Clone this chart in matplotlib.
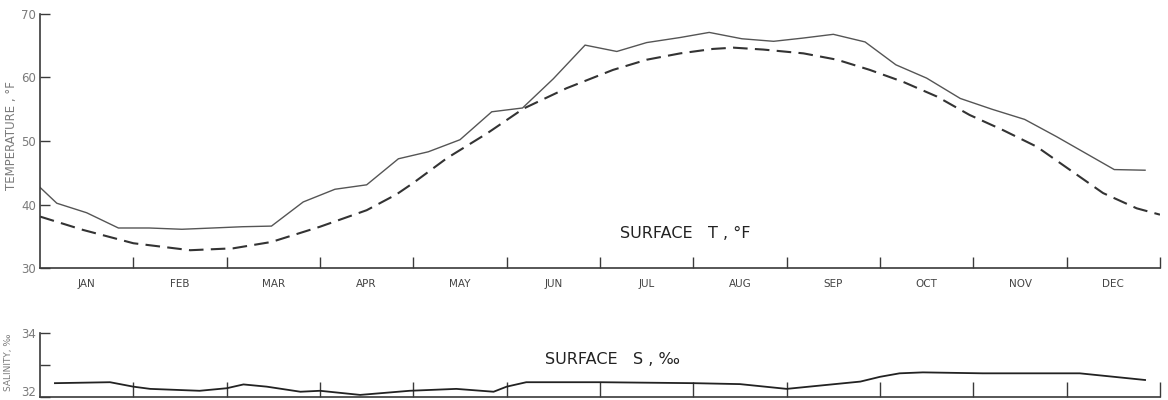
import matplotlib
matplotlib.use("Agg")
import matplotlib.pyplot as plt

# ---- data (months from Jan 1, 0..12) ----
months = ["JAN", "FEB", "MAR", "APR", "MAY", "JUN", "JUL", "AUG", "SEP", "OCT", "NOV", "DEC"]

obs_month = [0, 0.18, 0.5, 0.84, 1.17, 1.52, 1.85, 2.17, 2.48, 2.82, 3.16, 3.5, 3.84, 4.16,
             4.5, 4.84, 5.17, 5.5, 5.84, 6.18, 6.5, 6.86, 7.17, 7.52, 7.86, 8.17, 8.5, 8.84,
             9.17, 9.5, 9.86, 10.2, 10.55, 10.89, 11.2, 11.51, 11.84]
obs_temp = [42.7, 40.2, 38.7, 36.3, 36.3, 36.1, 36.3, 36.5, 36.6, 40.4, 42.4, 43.1, 47.2, 48.3,
            50.2, 54.6, 55.2, 59.8, 65.1, 64.1, 65.5, 66.3, 67.1, 66.1, 65.7, 66.2, 66.8, 65.6,
            62.0, 59.9, 56.7, 55.0, 53.4, 50.7, 48.1, 45.5, 45.4]

smooth_month = [0, 0.46, 1.0, 1.61, 2.07, 2.48, 3.0, 3.5, 3.82, 4.0, 4.36, 4.79, 5.18, 5.64, 6.14,
                6.5, 6.86, 7.21, 7.43, 7.75, 8.18, 8.54, 8.89, 9.25, 9.61, 9.96, 10.32, 10.68,
                11.04, 11.39, 11.75, 12.0]
smooth_temp = [38.1, 36.0, 33.9, 32.8, 33.1, 34.1, 36.5, 39.1, 41.6, 43.4, 47.3, 51.2, 55.1, 58.3, 61.2,
               62.8, 63.8, 64.5, 64.7, 64.4, 63.8, 62.8, 61.2, 59.3, 57.0, 54.1, 51.7, 49.1,
               45.4, 41.8, 39.4, 38.4]

sal_month = [0.16, 0.75, 1.0, 1.18, 1.71, 2.0, 2.18, 2.43, 2.79, 3.0, 3.43, 3.96, 4.46, 4.86,
             5.0, 5.21, 6.0, 7.0, 7.5, 8.0, 8.79, 9.0, 9.21, 9.46, 10.1, 11.14, 11.84]
sal = [32.42, 32.45, 32.31, 32.24, 32.18, 32.26, 32.38, 32.31, 32.15, 32.18, 32.05, 32.18,
       32.24, 32.15, 32.31, 32.45, 32.45, 32.42, 32.39, 32.24, 32.47, 32.62, 32.73, 32.76,
       32.73, 32.73, 32.52]

temp_ticks = [30, 40, 50, 60, 70]
sal_ticks = [32, 33, 34]
sal_ticklabels = ["32", "", "34"]

plt.rcParams['font.family'] = ['DejaVu Sans']
W, H = 1168, 400
fig = plt.figure(figsize=(W / 100, H / 100), dpi=100)

spine_c = "#3a3a3a"
lab_c = "#7a7a7a"

L = 40 / W
Wd = (1160 - 40) / W

# ---- temperature axes ----
ax = fig.add_axes([L, (H - 268) / H, Wd, (268 - 14) / H])
ax.plot(obs_month, obs_temp, color="#555555", lw=1.0, solid_joinstyle="miter")
ax.plot(smooth_month, smooth_temp, color="#333333", lw=1.5, dashes=(7, 3.5))
ax.set_xlim(0, 12)
ax.set_ylim(30, 70)
for s in ["top", "right"]:
    ax.spines[s].set_visible(False)
for s in ["left", "bottom"]:
    ax.spines[s].set_color(spine_c)
    ax.spines[s].set_linewidth(1.2)
ax.set_yticks(temp_ticks)
ax.tick_params(axis="y", direction="in", length=7, width=1, color=spine_c,
               labelsize=8.5, labelcolor=lab_c, pad=3)
ax.set_xticks(range(1, 13))
ax.set_xticklabels([])
ax.tick_params(axis="x", which="major", direction="in", length=8, width=1, color=spine_c)
ax.set_xticks([i + 0.5 for i in range(12)], minor=True)
ax.set_xticklabels(months, minor=True)
ax.tick_params(axis="x", which="minor", length=0, labelsize=7.5, labelcolor="#444444", pad=8)
ax.text(6.91, 35.5, "SURFACE   T , °F", fontsize=11.5, color="#222222", ha="center", va="center")
fig.text(12 / W, 1 - 136 / H, "TEMPERATURE , °F", rotation=90, fontsize=8.5,
         color=lab_c, ha="center", va="center")

# ---- salinity axes ----
ax2 = fig.add_axes([L, (H - 396.5) / H, Wd, (396.5 - 333) / H])
ax2.plot(sal_month, sal, color="#222222", lw=1.3)
ax2.set_xlim(0, 12)
ax2.set_ylim(32, 34)
for s in ["top", "right"]:
    ax2.spines[s].set_visible(False)
for s in ["left", "bottom"]:
    ax2.spines[s].set_color(spine_c)
    ax2.spines[s].set_linewidth(1.2)
ax2.set_yticks(sal_ticks)
ax2.set_yticklabels(sal_ticklabels)
ax2.tick_params(axis="y", direction="in", length=7, width=1, color=spine_c,
                labelsize=8.5, labelcolor=lab_c, pad=3)
for t in ax2.get_yticklabels():
    if t.get_text() == "32":
        t.set_verticalalignment("baseline")
ax2.set_xticks(range(1, 13))
ax2.set_xticklabels([])
ax2.tick_params(axis="x", direction="in", length=11, width=1, color=spine_c)
ax2.text(6.13, 33.18, "SURFACE   S , ‰", fontsize=11.5, color="#222222", ha="center", va="center")
fig.text(9 / W, 1 - 362 / H, "SALINITY, ‰", rotation=90, fontsize=6.5,
         color=lab_c, ha="center", va="center")

fig.savefig("out.png", dpi=100)
